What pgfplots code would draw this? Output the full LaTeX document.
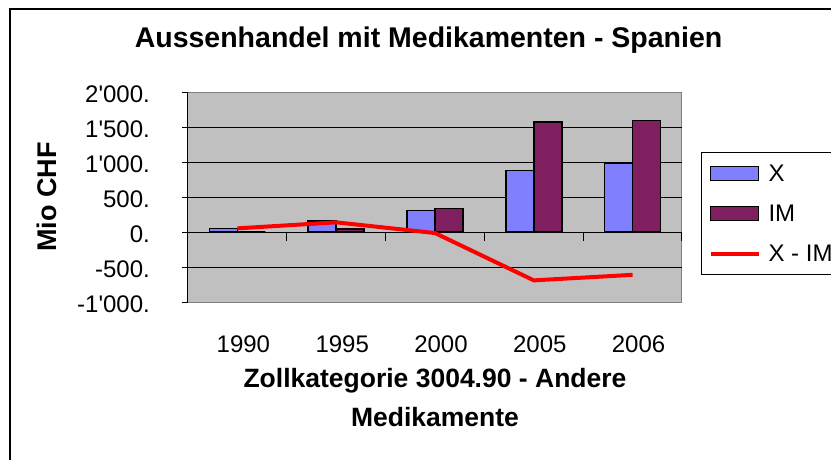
\documentclass[border=0pt]{standalone}
\usepackage{pgfplots}
\pgfplotsset{compat=1.18}
\usepackage{fontspec}
\setmainfont{Liberation Sans}
\definecolor{xcol}{RGB}{128,128,255}
\definecolor{imcol}{RGB}{128,31,96}
\definecolor{plotbg}{RGB}{192,192,192}
\definecolor{bordergray}{RGB}{128,128,128}
\begin{document}
\begin{tikzpicture}[x=1pt,y=1pt]
\path[use as bounding box] (0,0) rectangle (831,459);
\clip (0,0) rectangle (831,459);
\fill[white] (0,0) rectangle (831,459);
\draw[line width=2.5pt] (10,450) rectangle (860,-30);
\begin{axis}[
  at={(188pt,157pt)}, anchor=south west,
  scale only axis, width=494pt, height=210pt,
  xmin=-0.5, xmax=4.5, ymin=-1000, ymax=2000,
  axis x line*=bottom, axis y line*=left,
  x axis line style={draw=none},
  y axis line style={black, line width=1pt, -},
  axis background/.style={fill=plotbg, draw=bordergray, line width=1pt},
  xtick={0,1,2,3,4},
  xticklabels={1990,1995,2000,2005,2006},
  xtick style={draw=none},
  ytick={-1000,-500,0,500,1000,1500,2000},
  yticklabels={{-1\textquotesingle 000.},{-500.},{0.},{500.},{1\textquotesingle 000.},{1\textquotesingle 500.},{2\textquotesingle 000.}},
  ytick style={black, line width=1pt},
  tick align=outside, major tick length=6pt,
  extra y ticks={-500,0,500,1000,1500},
  extra y tick labels={},
  extra y tick style={grid=major, major tick length=0pt},
  major grid style={black, line width=1pt},
  tick label style={font=\fontsize{24}{28}\selectfont},
  xticklabel style={anchor=center, yshift=-36pt, xshift=6pt},
  yticklabel style={anchor=east, inner sep=0pt, xshift=-32pt, yshift=-2pt},
  title={Aussenhandel mit Medikamenten - Spanien},
  title style={at={(0.487,1.184)}, anchor=base, font=\bfseries\fontsize{28.5}{34}\selectfont},
  xlabel={Zollkategorie 3004.90 - Andere\\Medikamente},
  xlabel style={at={(0.5,-0.455)}, anchor=center, align=center, font=\bfseries\fontsize{26.5}{39}\selectfont},
  ylabel={Mio CHF},
  ylabel style={at={(-0.2854,0.5)}, anchor=center, font=\bfseries\fontsize{27}{32}\selectfont},
  ybar=0pt, bar width=28pt,
  legend style={at={(1.0385,0.714)}, anchor=north west, draw=black, line width=1pt, fill=white,
    font=\fontsize{24}{28}\selectfont, row sep=18pt, inner xsep=7pt, inner ysep=10pt,
    /tikz/every odd column/.style={column sep=6pt}},
  legend cell align=left,
]
\addplot[fill=xcol, draw=black, line width=1.5pt,
  legend image code/.code={\draw[fill=xcol, draw=black, line width=1.5pt] (0pt,-7pt) rectangle (48pt,7pt);}]
  coordinates {(0,52) (1,157) (2,310) (3,877) (4,977)};
\addlegendentry{X}
\addplot[fill=imcol, draw=black, line width=1.5pt,
  legend image code/.code={\draw[fill=imcol, draw=black, line width=1.5pt] (0pt,-7pt) rectangle (48pt,7pt);}]
  coordinates {(0,0) (1,45) (2,338) (3,1568) (4,1592)};
\addlegendentry{IM}
\addplot[red, line width=4pt, sharp plot, mark=none,
  legend image code/.code={\draw[red, line width=4pt] (0pt,0pt) -- (48pt,0pt);}]
  coordinates {(0,52) (1,138) (2,-15) (3,-691) (4,-612)};
\addlegendentry{X - IM}
\pgfplotsinvokeforeach{0.5,1.5,2.5,3.5,4.5}{
  \draw[black, line width=1pt] (axis cs:#1,0) -- ++(0pt,-9pt);
}
\end{axis}
\end{tikzpicture}
\end{document}
